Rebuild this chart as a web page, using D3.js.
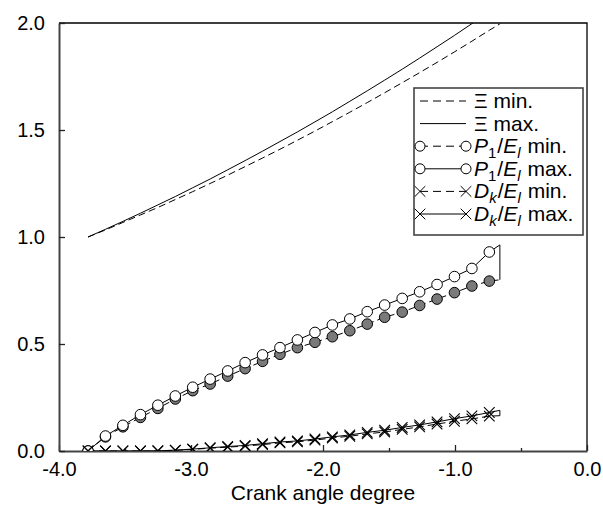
<!DOCTYPE html>
<html>
<head>
<meta charset="utf-8">
<script src="https://cdn.jsdelivr.net/npm/d3@7"></script>
<style>
  body { margin: 0; background: #fff; }
  svg { display: block; font-family: Arial, "Liberation Sans", sans-serif; }
</style>
</head>
<body>
<svg id="chart" width="603" height="507"></svg>
<script>
// crank angle samples (last one is the end of the curves, no marker there)
const angles = [-3.78, -3.648, -3.516, -3.383, -3.251, -3.119, -2.987, -2.855, -2.722, -2.590,
    -2.458, -2.326, -2.194, -2.061, -1.929, -1.797, -1.665, -1.533, -1.400, -1.268,
    -1.136, -1.004, -0.872, -0.740, -0.66];

const xiMin = [1.000, 1.033, 1.068, 1.103, 1.138, 1.175, 1.212, 1.250, 1.289, 1.329,
    1.369, 1.410, 1.452, 1.495, 1.539, 1.583, 1.628, 1.674, 1.721, 1.768,
    1.816, 1.865, 1.915, 1.966, 1.996];
const xiMax = [1.000, 1.036, 1.073, 1.111, 1.150, 1.189, 1.230, 1.271, 1.314, 1.357,
    1.401, 1.446, 1.491, 1.538, 1.585, 1.634, 1.683, 1.733, 1.784, 1.836,
    1.889, 1.942, 1.997, 2.052, 2.086];

const p1Min = [0, 0.066, 0.113, 0.157, 0.199, 0.243, 0.282, 0.313, 0.350, 0.385,
    0.419, 0.452, 0.483, 0.508, 0.534, 0.562, 0.593, 0.625, 0.649, 0.680,
    0.710, 0.740, 0.771, 0.794, 0.800];
const p1Max = [0, 0.070, 0.120, 0.170, 0.214, 0.257, 0.298, 0.336, 0.374, 0.413,
    0.449, 0.483, 0.519, 0.554, 0.589, 0.617, 0.651, 0.682, 0.713, 0.744,
    0.778, 0.815, 0.853, 0.930, 0.963];

const dkMin = [0, 0, 0, 0, 0, 0.003, 0.008, 0.013, 0.018, 0.023,
    0.030, 0.038, 0.043, 0.051, 0.061, 0.069, 0.080, 0.089, 0.101, 0.113,
    0.126, 0.139, 0.150, 0.163, 0.165];
const dkMax = [0, 0, 0, 0, 0.001, 0.004, 0.009, 0.015, 0.021, 0.026,
    0.034, 0.042, 0.047, 0.056, 0.066, 0.075, 0.087, 0.097, 0.110, 0.122,
    0.136, 0.151, 0.164, 0.180, 0.190];

const xTicks = [-4, -3, -2, -1, 0];
const xMinorTicks = [-3.5, -2.5, -1.5, -0.5];
const yTicks = [0, 0.5, 1, 1.5, 2];

const svg = d3.select('#chart');
const pLeft = 59, pRight = 587, pTop = 23, pBottom = 451;

const x = d3.scaleLinear().domain([-4, 0]).range([pLeft, pRight]);
const y = d3.scaleLinear().domain([0, 2]).range([pBottom, pTop]);

svg.append('defs').append('clipPath').attr('id', 'plotclip')
    .append('rect')
    .attr('x', pLeft).attr('y', pTop)
    .attr('width', pRight - pLeft).attr('height', pBottom - pTop);

// frame (top and right)
svg.append('path')
    .attr('d', `M${pLeft},${pTop}H${pRight}V${pBottom}`)
    .attr('fill', 'none')
    .attr('stroke', '#000')
    .attr('stroke-width', 1.3);

const fmt = d => d.toFixed(1);

// x axis
const gx = svg.append('g').attr('transform', `translate(0,${pBottom})`)
    .call(d3.axisBottom(x).tickValues(xTicks).tickFormat(fmt).tickSize(-6).tickSizeOuter(0).tickPadding(11));
gx.append('g')
    .call(d3.axisBottom(x).tickValues(xMinorTicks).tickFormat('').tickSize(-3).tickSizeOuter(0))
    .select('.domain').remove();

// y axis
const gy = svg.append('g').attr('transform', `translate(${pLeft},0)`)
    .call(d3.axisLeft(y).tickValues(yTicks).tickFormat(fmt).tickSize(-6).tickSizeOuter(0).tickPadding(14));

[gx, gy].forEach(g => {
    g.selectAll('.domain').attr('stroke', '#444').attr('stroke-width', 2);
    g.selectAll('.tick line').attr('stroke', '#222').attr('stroke-width', 1.3);
    g.selectAll('text')
        .attr('font-size', 20)
        .attr('font-family', 'Arial, "Liberation Sans", sans-serif')
        .attr('fill', '#000');
});

svg.append('text')
    .attr('x', (pLeft + pRight) / 2)
    .attr('y', 500)
    .attr('text-anchor', 'middle')
    .attr('font-size', 21)
    .text('Crank angle degree');

// data
const plot = svg.append('g').attr('clip-path', 'url(#plotclip)');

function pts(vals) {
    return angles.map((a, i) => [a, vals[i]]);
}

const line = d3.line().x(d => x(d[0])).y(d => y(d[1]));

function drawLine(vals, dashed) {
    plot.append('path')
        .attr('d', line(pts(vals)))
        .attr('fill', 'none')
        .attr('stroke', '#000')
        .attr('stroke-width', 1)
        .attr('stroke-dasharray', dashed ? '7,4' : null);
}

function joinEnds(a, b) {
    const n = angles.length - 1;
    plot.append('line')
        .attr('x1', x(angles[n])).attr('y1', y(a[n]))
        .attr('x2', x(angles[n])).attr('y2', y(b[n]))
        .attr('stroke', '#000')
        .attr('stroke-width', 1);
}

drawLine(xiMin, true);
drawLine(xiMax, false);
drawLine(p1Min, true);
drawLine(p1Max, false);
drawLine(dkMin, true);
drawLine(dkMax, false);
joinEnds(p1Max, p1Min);
joinEnds(dkMax, dkMin);

const markPts = vals => pts(vals).slice(0, angles.length - 1);

function drawCircles(vals, fill) {
    plot.append('g')
        .selectAll('circle')
        .data(markPts(vals))
        .join('circle')
        .attr('cx', d => x(d[0]))
        .attr('cy', d => y(d[1]))
        .attr('r', 5.3)
        .attr('fill', fill)
        .attr('stroke', '#000')
        .attr('stroke-width', 1);
}

const cross = d3.symbol().type(d3.symbolX).size(75);

function drawCrosses(vals) {
    plot.append('g')
        .selectAll('path')
        .data(markPts(vals))
        .join('path')
        .attr('transform', d => `translate(${x(d[0])},${y(d[1])})`)
        .attr('d', cross)
        .attr('fill', 'none')
        .attr('stroke', '#000')
        .attr('stroke-width', 1.1);
}

drawCircles(p1Min, '#7a7a7a');
drawCircles(p1Max, '#fff');
drawCrosses(dkMin);
drawCrosses(dkMax);

// legend
const legend = svg.append('g');
legend.append('rect')
    .attr('x', 414).attr('y', 88)
    .attr('width', 169).attr('height', 147)
    .attr('fill', '#fff')
    .attr('stroke', '#444')
    .attr('stroke-width', 1.6);

const legendRows = [
    { dash: true, mark: null, label: [['Ξ', false, false], [' min.', false, false]] },
    { dash: false, mark: null, label: [['Ξ', false, false], [' max.', false, false]] },
    { dash: true, mark: 'o', label: [['P', true, false], ['1', false, true], ['/', false, false], ['E', true, false], ['l', true, true], [' min.', false, false]] },
    { dash: false, mark: 'o', label: [['P', true, false], ['1', false, true], ['/', false, false], ['E', true, false], ['l', true, true], [' max.', false, false]] },
    { dash: true, mark: 'x', label: [['D', true, false], ['k', true, true], ['/', false, false], ['E', true, false], ['l', true, true], [' min.', false, false]] },
    { dash: false, mark: 'x', label: [['D', true, false], ['k', true, true], ['/', false, false], ['E', true, false], ['l', true, true], [' max.', false, false]] }
];

legendRows.forEach((row, i) => {
    const cy = 101 + i * 22.6;
    const x1 = 420, x2 = 466;
    legend.append('line')
        .attr('x1', x1).attr('x2', x2)
        .attr('y1', cy).attr('y2', cy)
        .attr('stroke', '#000')
        .attr('stroke-width', 1)
        .attr('stroke-dasharray', row.dash ? '8,5' : null);
    if (row.mark === 'o') {
        [x1, x2].forEach(cx => legend.append('circle')
            .attr('cx', cx).attr('cy', cy).attr('r', 5)
            .attr('fill', '#fff').attr('stroke', '#000'));
    } else if (row.mark === 'x') {
        [x1, x2].forEach(cx => legend.append('path')
            .attr('transform', `translate(${cx},${cy})`)
            .attr('d', cross)
            .attr('fill', 'none').attr('stroke', '#000'));
    }
    const t = legend.append('text')
        .attr('x', 474)
        .attr('y', cy + 7)
        .attr('font-size', 21);
    let sub = false;
    row.label.forEach(([s, it, isSub]) => {
        const ts = t.append('tspan').text(s)
            .attr('font-style', it ? 'italic' : 'normal');
        if (isSub) {
            ts.attr('font-size', 15).attr('dy', 5);
            sub = true;
        } else if (sub) {
            ts.attr('dy', -5).attr('dx', 1);
            sub = false;
        }
    });
});
</script>
</body>
</html>
